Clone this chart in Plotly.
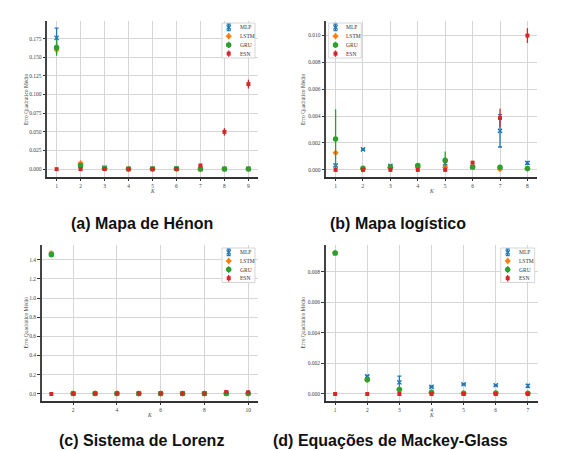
import plotly.graph_objects as go

W, H = 569, 450
SERIES = ["MLP", "LSTM", "GRU", "ESN"]
COLORS = {"MLP": "#1f77b4", "LSTM": "#ff7f0e", "GRU": "#2ca02c", "ESN": "#d62728"}

# ---------------- data ----------------
# (a) Mapa de Hénon
k_a = [1, 2, 3, 4, 5, 6, 7, 8, 9]
a_mlp = [0.176, 0.004, 0.002, 0.0005, 0.0008, 0.0008, 0.0003, 0.0004, 0.0006]
a_mlp_err = [0.013, 0.001, 0.001, 0.0005, 0.0008, 0.0008, 0.0003, 0.0004, 0.0006]
a_lstm = [0.160, 0.008, 0.001, 0.0005, 0.0005, 0.0005, 0.0002, 0.0004, 0.0004]
a_lstm_err = [0.005, 0.002, 0.001, 0.001, 0.001, 0.001, 0.001, 0.001, 0.001]
a_gru = [0.163, 0.005, 0.001, 0.0003, 0.0003, 0.0004, 0.0002, 0.0002, 0.0002]
a_gru_err = [0.011, 0.002, 0.0008, 0.0006, 0.0006, 0.0006, 0.0005, 0.0005, 0.0005]
a_esn = [0.0, 0.0, 0.0002, 0.0001, 0.0002, 0.0002, 0.005, 0.050, 0.114]
a_esn_err = [0.0, 0.0, 0.0005, 0.0005, 0.0005, 0.0005, 0.002, 0.005, 0.006]

# (b) Mapa logístico
k_b = [1, 2, 3, 4, 5, 6, 7, 8]
b_mlp = [0.00033, 0.00152, 0.00030, 0.00028, 0.00048, 0.00020, 0.00290, 0.00052]
b_mlp_err = [0.00008, 0.00006, 0.00005, 0.00004, 0.00010, 0.00004, 0.00120, 0.00010]
b_lstm = [0.00127, 0.00004, 0.00018, 0.00020, 0.00020, 0.00020, 0.00005, 0.00008]
b_lstm_err = [0.00010, 0.00004, 0.00004, 0.00004, 0.00010, 0.00004, 0.00004, 0.00004]
b_gru = [0.00230, 0.00012, 0.00020, 0.00032, 0.00072, 0.00022, 0.00020, 0.00010]
b_gru_err = [0.00220, 0.00005, 0.00005, 0.00005, 0.00064, 0.00005, 0.00005, 0.00005]
b_esn = [0.0, 0.0, 0.0, 0.0, 0.0, 0.00054, 0.00385, 0.00997]
b_esn_err = [0.0, 0.0, 0.0, 0.0, 0.0, 0.00005, 0.00068, 0.00055]

# (c) Sistema de Lorenz
k_c = [1, 2, 3, 4, 5, 6, 7, 8, 9, 10]
c_mlp = [1.460, 0.004, 0.004, 0.004, 0.003, 0.003, 0.003, 0.003, 0.004, 0.004]
c_mlp_err = [0.010, 0.006, 0.006, 0.006, 0.006, 0.006, 0.006, 0.006, 0.006, 0.006]
c_lstm = [1.468, 0.005, 0.005, 0.005, 0.004, 0.004, 0.004, 0.004, 0.005, 0.005]
c_lstm_err = [0.014, 0.010, 0.010, 0.010, 0.010, 0.010, 0.010, 0.010, 0.010, 0.010]
c_gru = [1.452, 0.003, 0.003, 0.003, 0.003, 0.003, 0.003, 0.003, 0.003, 0.003]
c_gru_err = [0.012, 0.008, 0.008, 0.008, 0.008, 0.008, 0.008, 0.008, 0.008, 0.008]
c_esn = [0.0, 0.002, 0.003, 0.003, 0.003, 0.004, 0.005, 0.004, 0.020, 0.018]
c_esn_err = [0.0, 0.004, 0.005, 0.005, 0.005, 0.005, 0.010, 0.006, 0.015, 0.012]

# (d) Equações de Mackey-Glass
k_d = [1, 2, 3, 4, 5, 6, 7]
d_mlp = [0.00922, 0.00115, 0.00076, 0.00046, 0.00063, 0.00057, 0.00053]
d_mlp_err = [0.00005, 0.00006, 0.00040, 0.00004, 0.00004, 0.00004, 0.00010]
d_lstm = [0.00925, 0.00092, 0.00030, 0.00010, 0.00005, 0.00005, 0.00004]
d_lstm_err = [0.00007, 0.00005, 0.00005, 0.00004, 0.00003, 0.00003, 0.00003]
d_gru = [0.00924, 0.00093, 0.00028, 0.00010, 0.00005, 0.00006, 0.00004]
d_gru_err = [0.00007, 0.00005, 0.00005, 0.00004, 0.00003, 0.00003, 0.00003]
d_esn = [0.0, 0.0, 0.0, 0.0, 0.0, 0.0, 0.0]
d_esn_err = [0.0, 0.0, 0.0, 0.0, 0.0, 0.0, 0.0]

captions = ["(a) Mapa de Hénon", "(b) Mapa logístico",
            "(c) Sistema de Lorenz", "(d) Equações de Mackey-Glass"]
y_title = "Erro Quadrático Médio"
x_title = "K"

panels = [
    dict(k=k_a, vals={"MLP": (a_mlp, a_mlp_err), "LSTM": (a_lstm, a_lstm_err),
                      "GRU": (a_gru, a_gru_err), "ESN": (a_esn, a_esn_err)},
         tickvals=[0, 0.025, 0.05, 0.075, 0.1, 0.125, 0.15, 0.175], fmt=".3f",
         xt=k_a, yr=[-0.0105, 0.1986]),
    dict(k=k_b, vals={"MLP": (b_mlp, b_mlp_err), "LSTM": (b_lstm, b_lstm_err),
                      "GRU": (b_gru, b_gru_err), "ESN": (b_esn, b_esn_err)},
         tickvals=[0, 0.002, 0.004, 0.006, 0.008, 0.010], fmt=".3f",
         xt=k_b, yr=[-0.000526, 0.01105]),
    dict(k=k_c, vals={"MLP": (c_mlp, c_mlp_err), "LSTM": (c_lstm, c_lstm_err),
                      "GRU": (c_gru, c_gru_err), "ESN": (c_esn, c_esn_err)},
         tickvals=[0, 0.2, 0.4, 0.6, 0.8, 1.0, 1.2, 1.4], fmt=".1f",
         xt=[2, 4, 6, 8, 10], yr=[-0.074, 1.556]),
    dict(k=k_d, vals={"MLP": (d_mlp, d_mlp_err), "LSTM": (d_lstm, d_lstm_err),
                      "GRU": (d_gru, d_gru_err), "ESN": (d_esn, d_esn_err)},
         tickvals=[0, 0.002, 0.004, 0.006, 0.008], fmt=".3f",
         xt=k_d, yr=[-0.000466, 0.00978]),
]

# ---------------- layout geometry (pixels) ----------------
def px(x):
    return x / W

def py(y):
    return 1 - y / H

boxes = [  # left, right, top, bottom in pixels
    (39, 250, 13, 169),
    (318, 529, 13, 169),
    (33.5, 250, 236.7, 393),
    (317.5, 529.5, 236.7, 393),
]
ytitle_x = [18, 295, 17.5, 294.5]
caption_pos = [(134, 215), (390, 215), (133.5, 432), (382.5, 432)]
legend_boxes = [  # x0, x1, y0, y1, marker x, text x
    (214, 247, 15, 50, 220.7, 229.5),
    (320.7, 353.3, 15, 50, 327.5, 336),
    (214, 247, 240, 274.5, 220.7, 229.5),
    (492.7, 526.7, 240, 274.5, 499.7, 508.5),
]

SYM = {"MLP": "x-thin", "LSTM": "diamond", "GRU": "circle", "ESN": "square"}
SIZE = {"MLP": 4.2, "LSTM": 4.8, "GRU": 5.5, "ESN": 4}
CAP = {"MLP": 2, "LSTM": 0, "GRU": 0, "ESN": 0}


def marker(s):
    m = dict(symbol=SYM[s], size=SIZE[s], color=COLORS[s])
    if s == "MLP":
        m["line"] = dict(color=COLORS[s], width=1.3)
    else:
        m["line"] = dict(width=0)
    return m


fig = go.Figure()
tickfont = dict(family="Liberation Serif", size=5.5, color="#444")
annotations = []

for i, p in enumerate(panels):
    n = "" if i == 0 else str(i + 1)
    for s in SERIES:
        v, e = p["vals"][s]
        fig.add_trace(go.Scatter(
            x=p["k"], y=v, mode="markers", name=s, showlegend=False,
            marker=marker(s),
            error_y=dict(type="data", array=e, color=COLORS[s], thickness=1.3,
                         width=CAP[s]),
            xaxis="x" + n, yaxis="y" + n))
    L, R, T, B = boxes[i]
    kmin, kmax = min(p["k"]), max(p["k"])
    m = 0.05 * (kmax - kmin)
    fig.layout["xaxis" + n] = dict(
        domain=[px(L), px(R)], range=[kmin - m, kmax + m], anchor="y" + n,
        tickvals=p["xt"], tickfont=tickfont, showgrid=True, gridcolor="#d6d6d6",
        gridwidth=1.2, zeroline=False, showline=True, linecolor="#333",
        linewidth=1.5, ticks="outside", ticklen=2.5, tickwidth=1, tickcolor="#333")
    fig.layout["yaxis" + n] = dict(
        domain=[py(B), py(T)], range=p["yr"], anchor="x" + n,
        tickvals=p["tickvals"], tickformat=p["fmt"], tickfont=tickfont,
        showgrid=True, gridcolor="#d6d6d6", gridwidth=1.2, zeroline=False,
        showline=True, linecolor="#444", linewidth=1.8, ticks="outside",
        ticklen=2.5, tickwidth=1, tickcolor="#333")
    # axis titles
    annotations.append(dict(x=px(ytitle_x[i]), y=py((T + B) / 2), xref="paper",
                            yref="paper", text=y_title, textangle=-90,
                            xanchor="center", yanchor="middle",
                            showarrow=False, font=dict(family="Liberation Serif",
                                                       size=5.5, color="#444")))
    annotations.append(dict(x=px((L + R) / 2), y=py(B + 13.5), xref="paper",
                            yref="paper", text="<i>" + x_title + "</i>",
                            xanchor="center", yanchor="middle",
                            showarrow=False, font=dict(family="Liberation Serif",
                                                       size=5.5, color="#444")))
    cx, cy = caption_pos[i]
    annotations.append(dict(x=px(cx), y=py(cy), xref="paper", yref="paper",
                            text="<b>" + captions[i] + "</b>", showarrow=False,
                            xanchor="center", yanchor="middle",
                            font=dict(family="Liberation Sans", size=16,
                                      color="#111")))

# ---------------- legends (overlay axis in pixel units) ----------------
for i, (x0, x1, y0, y1, mx, tx) in enumerate(legend_boxes):
    fig.add_trace(go.Scatter(
        x=[x0, x1, x1, x0, x0], y=[y0, y0, y1, y1, y0], mode="lines",
        fill="toself", fillcolor="rgba(255,255,255,0.9)",
        line=dict(color="#cccccc", width=0.8), showlegend=False,
        hoverinfo="skip", xaxis="x5", yaxis="y5"))
    step = (y1 - y0) / 4
    for j, s in enumerate(SERIES):
        yy = y0 + step * (j + 0.5)
        fig.add_trace(go.Scatter(
            x=[mx], y=[yy], mode="markers", showlegend=False, hoverinfo="skip",
            marker=marker(s),
            error_y=dict(type="data", array=[3.2], color=COLORS[s],
                         thickness=1.3, width=CAP[s]),
            xaxis="x5", yaxis="y5"))
        annotations.append(dict(x=px(tx), y=py(yy), xref="paper", yref="paper",
                                text=s, showarrow=False, xanchor="left",
                                yanchor="middle",
                                font=dict(family="Liberation Serif", size=5.5,
                                          color="#333")))

fig.layout["xaxis5"] = dict(domain=[0, 1], range=[0, W], anchor="y5",
                            visible=False, fixedrange=True)
fig.layout["yaxis5"] = dict(domain=[0, 1], range=[H, 0], anchor="x5",
                            visible=False, fixedrange=True)

fig.update_layout(
    width=W, height=H, margin=dict(l=0, r=0, t=0, b=0),
    paper_bgcolor="white", plot_bgcolor="rgba(0,0,0,0)",
    showlegend=False, annotations=annotations,
)

fig.write_html("out.html")
